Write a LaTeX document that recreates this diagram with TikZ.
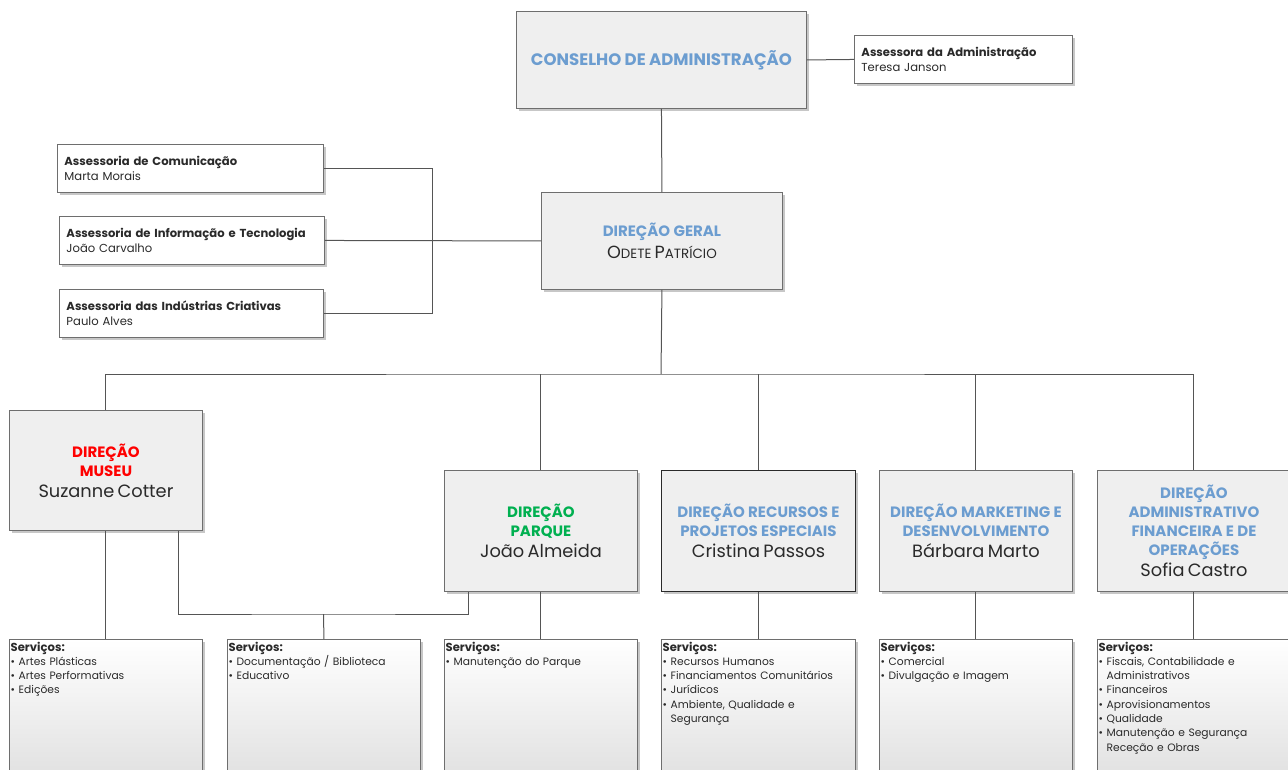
\documentclass[tikz,border=0pt]{standalone}
\usepackage{fontspec}
\setmainfont{Poppins}
\usetikzlibrary{shadows}
\definecolor{titleblue}{HTML}{6C9DD0}
\definecolor{titlered}{HTML}{FF0000}
\definecolor{titlegreen}{HTML}{00B050}
\definecolor{boxfill}{HTML}{EFEFEF}
\definecolor{boxline}{HTML}{6E6E6E}
\definecolor{wire}{HTML}{555555}
\definecolor{ink}{HTML}{2A2A2A}
\newcommand{\ttlfont}{\fontsize{15}{19}\selectfont\bfseries}
\newcommand{\whofont}{\fontsize{17.8}{21}\selectfont\mdseries}
\newcommand{\svhead}{{\bfseries\fontsize{11.6}{14.3}\selectfont Serviços:}}
\begin{document}
\begin{tikzpicture}[x=1pt,y=-1pt,
  dshadow/.style={drop shadow={shadow xshift=2.5pt,shadow yshift=-2.5pt,fill=black,opacity=0.22}},
  mainbox/.style={draw=boxline,fill=boxfill,line width=0.9pt,dshadow,anchor=north west,
    align=center,inner sep=0pt,text=ink},
  smallbox/.style={draw=boxline,fill=white,line width=0.9pt,dshadow,anchor=north west,
    align=left,inner xsep=7pt,inner ysep=0pt,text=ink,font=\fontsize{11.6}{15}\selectfont},
  svbox/.style={draw=boxline,top color=white,bottom color=black!12,line width=0.9pt,dshadow,
    anchor=north west,inner sep=0pt,minimum height=140pt,minimum width=193pt},
  svtext/.style={anchor=north west,align=left,inner sep=0pt,text=ink,text width=190pt,
    font=\fontsize{10.7}{14.3}\selectfont},
  wireline/.style={draw=wire,line width=1pt}]
\useasboundingbox (0,0) rectangle (1288,769);

% top level
\node[mainbox,text width=284pt,minimum width=290pt,minimum height=97pt] (cons) at (516,11)
  {\color{titleblue}\fontsize{16.6}{19}\selectfont\bfseries CONSELHO DE ADMINISTRAÇÃO};
\node[smallbox,text width=204pt,minimum height=48pt] (assadm) at (854,35)
  {\textbf{Assessora da Administração}\\Teresa Janson};

\node[mainbox,text width=235pt,minimum width=241pt,minimum height=97pt] (dg) at (541,192)
  {{\color{titleblue}\ttlfont DIREÇÃO GERAL\par}
   {\fontsize{17.6}{22}\selectfont O\fontsize{13.4}{22}\selectfont DETE
    \fontsize{17.6}{22}\selectfont P\fontsize{13.4}{22}\selectfont ATRÍCIO\par}};

% advisory units
\node[smallbox,text width=252pt,minimum height=48pt] (acom) at (57,144)
  {\textbf{Assessoria de Comunicação}\\Marta Morais};
\node[smallbox,text width=251pt,minimum height=48pt] (ainf) at (59,216)
  {\textbf{Assessoria de Informação e Tecnologia}\\João Carvalho};
\node[smallbox,text width=250pt,minimum height=48pt] (aind) at (59,289)
  {\textbf{Assessoria das Indústrias Criativas}\\Paulo Alves};

% directorates
\node[mainbox,text width=187pt,minimum width=193pt,minimum height=120pt] (museu) at (9,410)
  {{\color{titlered}\ttlfont DIREÇÃO\\MUSEU\par}{\whofont Suzanne Cotter\par}};
\node[mainbox,text width=187pt,minimum width=193pt,minimum height=121pt] (parque) at (444,470)
  {{\color{titlegreen}\ttlfont DIREÇÃO\\PARQUE\par}{\whofont João Almeida\par}};
\node[mainbox,draw=ink,text width=188pt,minimum width=194pt,minimum height=121pt] (recursos) at (661,470)
  {{\color{titleblue}\ttlfont DIREÇÃO RECURSOS E\\PROJETOS ESPECIAIS\par}{\whofont Cristina Passos\par}};
\node[mainbox,text width=187pt,minimum width=193pt,minimum height=121pt] (marketing) at (879,470)
  {{\color{titleblue}\ttlfont DIREÇÃO MARKETING E\\DESENVOLVIMENTO\par}{\whofont Bárbara Marto\par}};
\node[mainbox,text width=187pt,minimum width=193pt,minimum height=121pt] (admin) at (1097,470)
  {{\color{titleblue}\ttlfont DIREÇÃO\\ADMINISTRATIVO\\FINANCEIRA E DE\\OPERAÇÕES\par}{\whofont Sofia Castro\par}};

% service boxes
\node[svbox] (svmuseu) at (9,639) {};
\node[svbox] (svdoc) at (227,639) {};
\node[svbox] (svparque) at (444,639) {};
\node[svbox,minimum width=194pt] (svrec) at (661,639) {};
\node[svbox] (svmkt) at (879,639) {};
\node[svbox] (svadm) at (1097,639) {};

\node[svtext] (tmuseu) at ([shift={(1.5,2.5)}]svmuseu.north west)
  {\svhead\\• Artes Plásticas\\• Artes Performativas\\• Edições};
\node[svtext] (tdoc) at ([shift={(1.5,2.5)}]svdoc.north west)
  {\svhead\\• Documentação / Biblioteca\\• Educativo};
\node[svtext] (tparque) at ([shift={(1.5,2.5)}]svparque.north west)
  {\svhead\\• Manutenção do Parque};
\node[svtext] (trec) at ([shift={(1.5,2.5)}]svrec.north west)
  {\svhead\\• Recursos Humanos\\• Financiamentos Comunitários\\• Jurídicos\\• Ambiente, Qualidade e\\\hphantom{• }Segurança};
\node[svtext] (tmkt) at ([shift={(1.5,2.5)}]svmkt.north west)
  {\svhead\\• Comercial\\• Divulgação e Imagem};
\node[svtext] (tadm) at ([shift={(1.5,2.5)}]svadm.north west)
  {\svhead\\• Fiscais, Contabilidade e\\\hphantom{• }Administrativos\\• Financeiros\\• Aprovisionamentos\\• Qualidade\\• Manutenção e Segurança\\\hphantom{• }Receção e Obras};

% connectors
\coordinate (bus) at (661,374);
\coordinate (jn) at (323.5,614);
\draw[wireline] (cons.east) -- (assadm.west);
\draw[wireline] (cons.south) -- (dg.north);
\draw[wireline] (acom.east) -- ++(109,0) |- (aind.east);
\draw[wireline] (ainf.east) -- (dg.west);
\draw[wireline] (dg.south) -- (bus);
\draw[wireline] (museu.north) |- (bus) -| (admin.north);
\draw[wireline] (parque.north) -- (parque.north |- bus);
\draw[wireline] (recursos.north) -- (recursos.north |- bus);
\draw[wireline] (marketing.north) -- (marketing.north |- bus);
\draw[wireline] (museu.south) -- (svmuseu.north);
\draw[wireline] ([xshift=72.5pt]museu.south) |- (jn) -| ([xshift=-72.5pt]parque.south);
\draw[wireline] (jn) -- (svdoc.north);
\draw[wireline] (parque.south) -- (svparque.north);
\draw[wireline] (recursos.south) -- (svrec.north);
\draw[wireline] (marketing.south) -- (svmkt.north);
\draw[wireline] (admin.south) -- (svadm.north);
\end{tikzpicture}
\end{document}
